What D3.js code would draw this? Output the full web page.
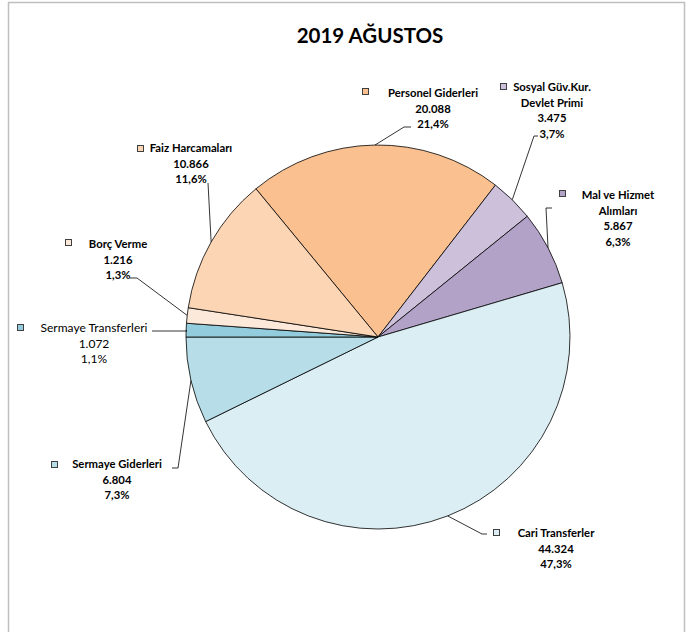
<!DOCTYPE html>
<html><head><meta charset="utf-8">
<script src="https://cdn.jsdelivr.net/npm/d3@7"></script>
<style>body{margin:0;background:#fff;} svg{display:block;font-family:Lato,"Open Sans",sans-serif;}</style>
</head><body>
<svg id="c" width="693" height="632"></svg>
<script>
const title = "2019 AĞUSTOS";
const categories = ["Personel Giderleri","Sosyal Güv.Kur.|Devlet Primi","Mal ve Hizmet|Alımları","Cari Transferler","Sermaye Giderleri","Sermaye Transferleri","Borç Verme","Faiz Harcamaları"];
const values = [20088, 3475, 5867, 44324, 6804, 1072, 1216, 10866];
const colors = ["#FAC090","#CCC0DA","#B3A2C7","#DBEEF4","#B7DEE8","#93CDDD","#FDE9D9","#FCD5B5"];
const boldLabel = [true,true,true,true,true,false,true,true];

// layout for labels (positions only)
const layout = [
  {cx:433, y:97,  sq:[362,88],  pts:[[404,127],[411,127]]},
  {cx:552, y:91,  sq:[500,83],  pts:[[534,136],[538,136]]},
  {cx:618, y:199, sq:[559,190], pts:[[546,208],[552,208]]},
  {cx:556, y:537, sq:[493,529], pts:[[482,534],[487,534]]},
  {cx:117, y:468, sq:[51,461],  pts:[[178,468],[172,468]]},
  {cx:94,  y:332, sq:[17,324],  pts:[[187,331],[152,331]]},
  {cx:118, y:248, sq:[65,239],  pts:[[137,278],[130,278]]},
  {cx:191, y:152, sq:[137,145], pts:[[208,183]]}
];

const svg = d3.select("#c");
svg.append("rect").attr("x",8.5).attr("y",2.5).attr("width",676).attr("height",700)
  .attr("fill","#fff").attr("stroke","#bfbfbf").attr("stroke-width",1.5);

svg.append("text").attr("x",370).attr("y",43).attr("text-anchor","middle")
  .attr("font-size",20.5).attr("font-weight","bold").attr("fill","#000").text(title);

const loc = d3.formatLocale({decimal:",",thousands:".",grouping:[3],currency:["",""]});
const fmtN = loc.format(",d");
const fmtP = loc.format(".1f");
const total = d3.sum(values);

const cx = 378, cy = 337, R = 192;
const start = -39.47*Math.PI/180;
const pie = d3.pie().sort(null).value(d=>d).startAngle(start).endAngle(start+2*Math.PI);
const arcs = pie(values);
const arc = d3.arc().innerRadius(0).outerRadius(R);
const g = svg.append("g").attr("transform",`translate(${cx},${cy})`);
g.selectAll("path").data(arcs).join("path").attr("d",arc)
  .attr("fill",(d,i)=>colors[i]).attr("stroke","#000").attr("stroke-width",0.8);

arcs.forEach((a,i)=>{
  const L = layout[i];
  const mid = (a.startAngle+a.endAngle)/2;
  const p0 = [cx+R*Math.sin(mid), cy-R*Math.cos(mid)];
  svg.append("path").attr("d",d3.line()([p0,...L.pts])).attr("fill","none").attr("stroke","#000").attr("stroke-width",0.8);
  svg.append("rect").attr("x",L.sq[0]+0.5).attr("y",L.sq[1]+0.5).attr("width",6).attr("height",6)
    .attr("fill",colors[i]).attr("stroke","#404040").attr("stroke-width",1);
  const lines = categories[i].split("|").concat([fmtN(values[i]), fmtP(values[i]/total*100)+"%"]);
  const t = svg.append("text").attr("text-anchor","middle").attr("font-size",boldLabel[i]?11.3:12)
    .attr("font-weight",boldLabel[i]?"bold":"normal").attr("fill","#000");
  lines.forEach((s,k)=>t.append("tspan").attr("x",L.cx).attr("y",L.y+k*15.5).text(s));
});
</script>
</body></html>
